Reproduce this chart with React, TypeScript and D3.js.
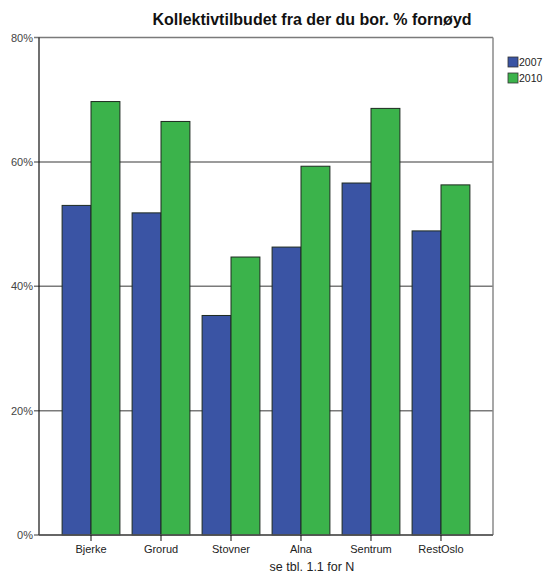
import React from "react";
import * as d3 from "d3";

const categories = ["Bjerke", "Grorud", "Stovner", "Alna", "Sentrum", "RestOslo"];
const seriesNames = ["2007", "2010"];
const values2007 = [53.0, 51.8, 35.3, 46.3, 56.6, 48.9];
const values2010 = [69.7, 66.5, 44.7, 59.3, 68.6, 56.3];
const yTicks = [0, 20, 40, 60, 80];
const title = "Kollektivtilbudet fra der du bor. % fornøyd";
const footnote = "se tbl. 1.1 for N";

const W = 546;
const H = 577;
const left = 39;
const right = 493;
const top = 37.5;
const bottom = 535;
const colors = ["#3a54a4", "#3bb34b"];
const font = "'Liberation Sans', Arial, sans-serif";

export default function App() {
  const x = d3
    .scaleBand<string>()
    .domain(categories)
    .range([left, right])
    .paddingInner(0.174)
    .paddingOuter(0.33);
  const xs = d3.scaleBand<string>().domain(seriesNames).range([0, x.bandwidth()]);
  const y = d3.scaleLinear().domain([0, 80]).range([bottom, top]);
  const series = [values2007, values2010];

  return (
    <svg
      width={W}
      height={H}
      style={{ position: "absolute", left: 0, top: 0, background: "#fff" }}
      fontFamily={font}
    >
      <rect x={0} y={0} width={W} height={H} fill="#fff" />
      {yTicks.map((t) => (
        <line
          key={"g" + t}
          x1={left - 5}
          x2={right}
          y1={y(t)}
          y2={y(t)}
          stroke="#7a7a7a"
          strokeWidth={1.5}
        />
      ))}
      <line x1={right} x2={right} y1={top} y2={bottom} stroke="#8a8a8a" strokeWidth={1.5} />
      {categories.map((c, i) =>
        series.map((vals, s) => (
          <rect
            key={c + s}
            x={(x(c) as number) + (xs(seriesNames[s]) as number)}
            y={y(vals[i])}
            width={xs.bandwidth()}
            height={bottom - y(vals[i])}
            fill={colors[s]}
            stroke="#1e2a20"
            strokeWidth={1}
          />
        ))
      )}
      <line x1={left} x2={left} y1={top} y2={bottom} stroke="#111" strokeWidth={1.2} />
      <line x1={left} x2={right} y1={bottom} y2={bottom} stroke="#555" strokeWidth={1.5} />
      {yTicks.map((t) => (
        <text
          key={"yl" + t}
          x={33}
          y={y(t) + 4}
          textAnchor="end"
          fontSize={11}
          fill="#444"
        >
          {t + "%"}
        </text>
      ))}
      {categories.map((c) => {
        const cx = (x(c) as number) + x.bandwidth() / 2;
        return (
          <g key={"x" + c}>
            <line x1={cx} x2={cx} y1={bottom} y2={bottom + 6} stroke="#111" strokeWidth={1} />
            <text x={cx} y={553} textAnchor="middle" fontSize={11} fill="#222">
              {c}
            </text>
          </g>
        );
      })}
      <text x={312} y={25} textAnchor="middle" fontSize={16} fontWeight="bold" fill="#111">
        {title}
      </text>
      <text x={312} y={571} textAnchor="middle" fontSize={12.5} fill="#222">
        {footnote}
      </text>
      {seriesNames.map((s, i) => (
        <g key={"lg" + s}>
          <rect
            x={508}
            y={57 + i * 16}
            width={10}
            height={10}
            fill={colors[i]}
            stroke="#333"
            strokeWidth={0.8}
          />
          <text x={519} y={66 + i * 16} fontSize={10.5} fill="#222">
            {s}
          </text>
        </g>
      ))}
    </svg>
  );
}
